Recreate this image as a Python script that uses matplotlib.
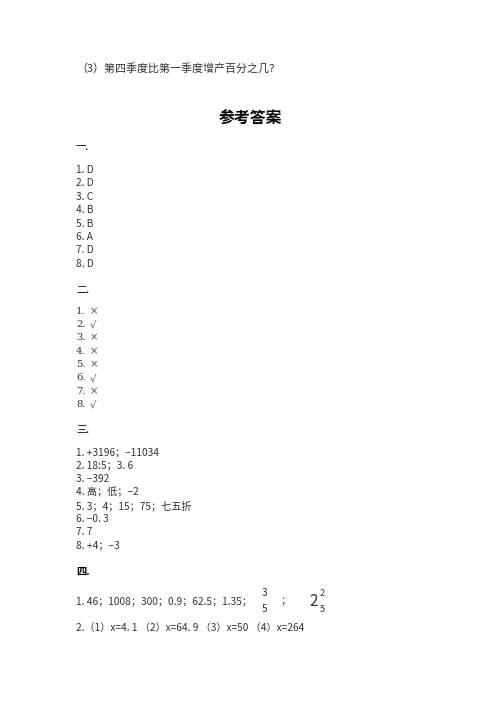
import matplotlib
matplotlib.use("Agg")
import matplotlib.pyplot as plt

plt.rcParams['font.family'] = ['Noto Sans CJK SC', 'DejaVu Sans']

W, H = 500, 707

question = "（3）第四季度比第一季度增产百分之几？"
title = "参考答案"
section_names = ["一.", "二.", "三.", "四."]
answers_1 = ["D", "D", "C", "B", "B", "A", "D", "D"]
answers_2 = ["×", "√", "×", "×", "×", "√", "×", "√"]
answers_3 = ["+3196；−11034", "18:5；3. 6", "−392", "高；低；−2",
             "3；4；15；75；七五折", "−0. 3", "7", "+4；−3"]
line_4_1 = "1. 46；1008；300；0.9；62.5；1.35；"
frac_a = ("3", "5")
mixed_b = ("2", "2", "5")
line_4_2 = "2.（1）x=4. 1 （2）x=64. 9 （3）x=50 （4）x=264"

fig = plt.figure(figsize=(W / 100, H / 100), dpi=100)
fig.patch.set_facecolor("white")

TXT = "#333333"
FS = 7.3


def put(x, y, s, **kw):
    """在像素坐标处写字"""
    kw.setdefault("fontsize", FS)
    kw.setdefault("color", TXT)
    kw.setdefault("va", "center")
    kw.setdefault("ha", "left")
    fig.text(x / W, 1 - y / H, s, **kw)


put(76, 68, question, fontsize=7.9)
put(250, 118, title, ha="center", fontsize=11.4, fontweight="bold", color="black")

x0 = 76
step = 13.4

put(x0, 147, section_names[0], fontsize=7.4, color="black")
for i, a in enumerate(answers_1):
    put(x0, 170 + i * step, f"{i + 1}. {a}")

put(x0, 290, section_names[1], fontsize=7.4, color="black")
for i, a in enumerate(answers_2):
    put(x0, 311 + i * step, f"{i + 1}.", family=['DejaVu Serif'])
    put(x0 + 14, 311 + i * step, a, family=['DejaVu Sans'], color="#555555")

put(x0, 430, section_names[2], fontsize=7.4, color="black")
for i, a in enumerate(answers_3):
    put(x0, 452 + i * step, f"{i + 1}. {a}")

put(x0, 572, section_names[3], fontsize=7.4, fontweight="bold", color="black")
put(x0, 601, line_4_1)
# 分数 3/5
put(265, 593, frac_a[0], ha="center")
put(265, 609, frac_a[1], ha="center")
put(286, 601, "；", ha="center")
# 带分数 2又2/5
put(314, 602, mixed_b[0], ha="center", fontsize=11)
put(322, 594, mixed_b[1], ha="center", fontsize=6.6)
put(322, 609, mixed_b[2], ha="center", fontsize=6.6)

put(x0, 628, line_4_2)

fig.savefig("out.png", dpi=100, facecolor="white")
